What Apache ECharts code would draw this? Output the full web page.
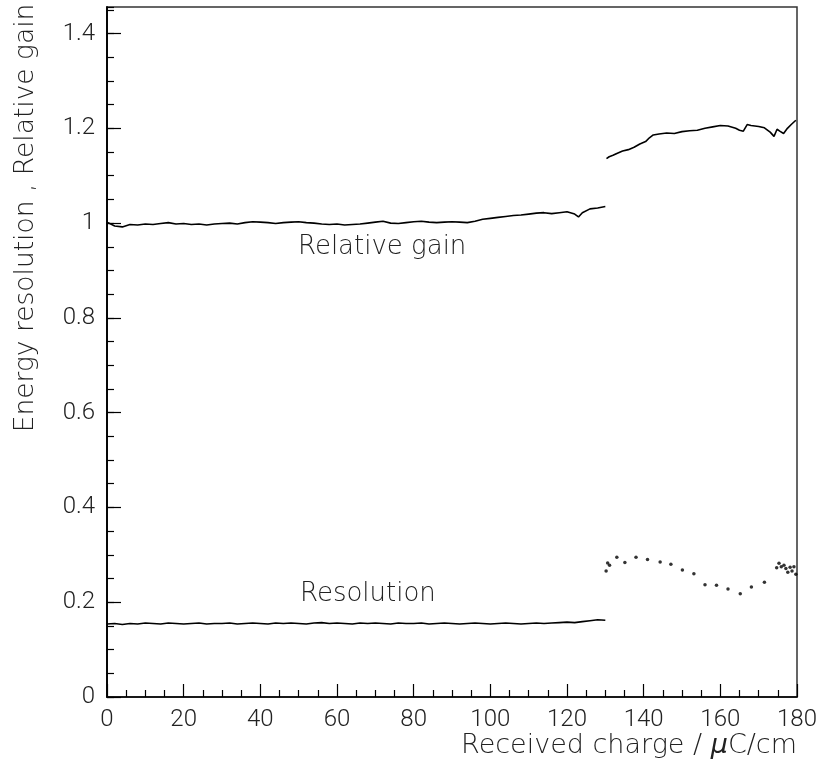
<!DOCTYPE html>
<html>
<head>
<meta charset="utf-8">
<script src="https://cdn.jsdelivr.net/npm/echarts@6/dist/echarts.min.js"></script>
<style>
  html, body { margin: 0; padding: 0; background: #fff; }
  #chart { width: 824px; height: 769px; }
</style>
</head>
<body>
<div id="chart"></div>
<script>
// Relative gain, first running period (0 - 130 uC/cm)
const gainCharge1 = [0, 2, 4, 6, 8, 10, 12, 14, 16, 18, 20, 22, 24, 26, 28, 30, 32, 34, 36, 38,
  40, 42, 44, 46, 48, 50, 52, 54, 56, 58, 60, 62, 64, 66, 68, 70, 72, 74, 76, 78,
  80, 82, 84, 86, 88, 90, 92, 94, 96, 98, 100, 102, 104, 106, 108, 110, 112, 114, 116, 118,
  120, 122, 123, 124, 126, 128, 130];
const gainValue1 = [1.002, 0.994, 0.992, 0.997, 0.996, 0.998, 0.997, 0.999, 1.001, 0.998,
  0.999, 0.997, 0.998, 0.996, 0.998, 0.999, 1.000, 0.998, 1.001, 1.003,
  1.002, 1.001, 0.999, 1.001, 1.002, 1.003, 1.001, 1.000, 0.998, 0.997,
  0.998, 0.996, 0.997, 0.998, 1.000, 1.002, 1.004, 1.000, 0.999, 1.001,
  1.003, 1.004, 1.002, 1.001, 1.002, 1.003, 1.002, 1.001, 1.004, 1.008,
  1.010, 1.012, 1.014, 1.016, 1.017, 1.019, 1.021, 1.022, 1.020, 1.022,
  1.024, 1.019, 1.013, 1.022, 1.030, 1.032, 1.035];

// Relative gain, second period (130 - 180 uC/cm)
const gainCharge2 = [130.3, 131, 132, 133, 134.5, 136, 137.5, 139, 140.5, 141.5, 142.5, 144, 146, 148,
  150, 152, 154, 156, 158, 160, 162, 164, 165, 166, 167, 168, 170, 171.5, 173, 174,
  174.8, 175.5, 176.5, 177.5, 178.5, 179.7];
const gainValue2 = [1.136, 1.140, 1.143, 1.147, 1.152, 1.155, 1.160, 1.167, 1.172, 1.180, 1.186, 1.188, 1.190, 1.189,
  1.193, 1.195, 1.196, 1.200, 1.203, 1.206, 1.205, 1.200, 1.196, 1.194, 1.208, 1.206, 1.204, 1.201, 1.192, 1.183,
  1.198, 1.194, 1.189, 1.200, 1.208, 1.217];

// Energy resolution, dense part (0 - 130 uC/cm)
const resCharge1 = [0, 2, 4, 6, 8, 10, 12, 14, 16, 18, 20, 22, 24, 26, 28, 30, 32, 34, 36, 38,
  40, 42, 44, 46, 48, 50, 52, 54, 56, 58, 60, 62, 64, 66, 68, 70, 72, 74, 76, 78,
  80, 82, 84, 86, 88, 90, 92, 94, 96, 98, 100, 102, 104, 106, 108, 110, 112, 114, 116, 118,
  120, 122, 124, 126, 128, 130];
const resValue1 = [0.154, 0.155, 0.153, 0.155, 0.154, 0.156, 0.155, 0.154, 0.156, 0.155,
  0.154, 0.155, 0.156, 0.154, 0.155, 0.155, 0.156, 0.154, 0.155, 0.156,
  0.155, 0.154, 0.156, 0.155, 0.156, 0.155, 0.154, 0.156, 0.157, 0.155,
  0.156, 0.155, 0.154, 0.156, 0.155, 0.156, 0.155, 0.154, 0.156, 0.155,
  0.155, 0.156, 0.154, 0.155, 0.156, 0.155, 0.154, 0.155, 0.156, 0.155,
  0.154, 0.155, 0.156, 0.155, 0.154, 0.155, 0.156, 0.155, 0.156, 0.157,
  0.158, 0.157, 0.159, 0.161, 0.163, 0.162];

// Energy resolution, sparse points after 130 uC/cm
const resCharge2 = [130.2, 130.6, 131.1, 133, 135.1, 138, 141, 144.3, 147.1, 150.1, 153.1, 156, 159, 162,
  165.2, 168.1, 171.5, 174.7, 175.3, 175.9, 176.6, 177.1, 177.6, 178.2, 178.7, 179.2, 179.7];
const resValue2 = [0.266, 0.283, 0.278, 0.295, 0.284, 0.295, 0.290, 0.285, 0.280, 0.268, 0.260, 0.237, 0.236, 0.228,
  0.218, 0.232, 0.242, 0.273, 0.282, 0.275, 0.278, 0.271, 0.263, 0.274, 0.266, 0.275, 0.259];

const pairs = (xs, ys) => xs.map((x, i) => [x, ys[i]]);

const FONT = 'Roboto, "DejaVu Sans", sans-serif';
const TITLE_FONT = '"DejaVu Sans", sans-serif';
const INK = '#222';

const chart = echarts.init(document.getElementById('chart'), null, { renderer: 'canvas' });

const axisCommon = {
  type: 'value',
  axisLine: { show: true, lineStyle: { color: '#000', width: 1.5 } },
  splitLine: { show: false },
};

chart.setOption({
  backgroundColor: '#fff',
  animation: false,
  grid: {
    left: 107, right: 27, top: 7, bottom: 72,
    show: true, borderColor: '#333', borderWidth: 1.5, backgroundColor: 'transparent',
  },
  xAxis: [
    {
      ...axisCommon,
      min: 0, max: 180, interval: 20,
      axisTick: { show: true, inside: true, length: 13, lineStyle: { color: '#000', width: 1.2 } },
      minorTick: { show: true, splitNumber: 4, length: 7, lineStyle: { color: '#000', width: 1.2 } },
      axisLabel: { margin: 11, color: INK, fontSize: 24, fontFamily: FONT, fontWeight: 300 },
    },
  ],
  yAxis: [
    {
      // labelled axis with long ticks every 0.2
      ...axisCommon,
      min: 0, max: 1.456, interval: 0.2,
      axisTick: { show: true, inside: true, length: 14, lineStyle: { color: '#000', width: 1.2 } },
      axisLabel: {
        margin: 12, color: INK, fontSize: 24, fontFamily: FONT, fontWeight: 300,
        showMaxLabel: false,
      },
    },
    {
      // short ticks every 0.05
      ...axisCommon,
      position: 'left',
      min: 0, max: 1.456, interval: 0.05,
      axisTick: { show: true, inside: true, length: 7, lineStyle: { color: '#000', width: 1.2 } },
      axisLabel: { show: false },
    },
  ],
  graphic: [
    {
      type: 'text', right: 27, top: 732,
      style: {
        text: 'Received charge / {i|μ}C/cm',
        font: '200 27px ' + TITLE_FONT, fill: INK,
        rich: { i: { fontStyle: 'italic', fontSize: 27, fontFamily: TITLE_FONT, fontWeight: 200, fill: INK } },
      },
    },
    {
      type: 'text', x: 26, y: 218, rotation: Math.PI / 2,
      style: {
        text: 'Energy resolution , Relative gain',
        font: '200 26.5px ' + TITLE_FONT, fill: INK, align: 'center', verticalAlign: 'middle',
      },
    },
    {
      type: 'text', x: 298, y: 247,
      style: { text: 'Relative gain', font: '200 26px ' + TITLE_FONT, fill: INK, verticalAlign: 'middle' },
    },
    {
      type: 'text', x: 300, y: 594,
      style: { text: 'Resolution', font: '200 26px ' + TITLE_FONT, fill: INK, verticalAlign: 'middle' },
    },
  ],
  series: [
    {
      name: 'Relative gain', type: 'line', data: pairs(gainCharge1, gainValue1),
      showSymbol: false, lineStyle: { color: '#000', width: 1.6 },
    },
    {
      name: 'Relative gain (2)', type: 'line', data: pairs(gainCharge2, gainValue2),
      showSymbol: false, lineStyle: { color: '#000', width: 1.6 },
    },
    {
      name: 'Resolution', type: 'line', data: pairs(resCharge1, resValue1),
      showSymbol: false, lineStyle: { color: '#000', width: 1.6 },
    },
    {
      name: 'Resolution (2)', type: 'scatter', data: pairs(resCharge2, resValue2),
      symbolSize: 3.5, itemStyle: { color: '#000' },
    },
  ],
});
</script>
</body>
</html>
